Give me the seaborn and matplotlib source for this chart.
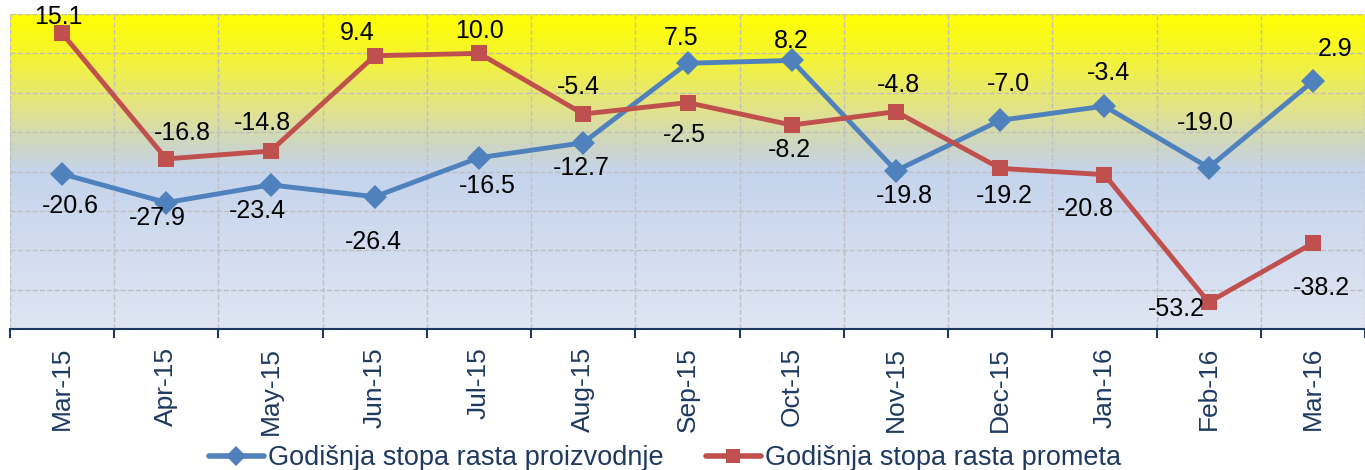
import numpy as np
import pandas as pd
import matplotlib
matplotlib.use('Agg')
import matplotlib.pyplot as plt
from matplotlib.colors import LinearSegmentedColormap
from matplotlib.lines import Line2D
import seaborn as sns

# Data
months = ['Mar-15', 'Apr-15', 'May-15', 'Jun-15', 'Jul-15', 'Aug-15', 'Sep-15',
          'Oct-15', 'Nov-15', 'Dec-15', 'Jan-16', 'Feb-16', 'Mar-16']
proizvodnja = [-20.6, -27.9, -23.4, -26.4, -16.5, -12.7, 7.5, 8.2, -19.8, -7.0, -3.4, -19.0, 2.9]
promet = [15.1, -16.8, -14.8, 9.4, 10.0, -5.4, -2.5, -8.2, -4.8, -19.2, -20.8, -53.2, -38.2]
series_names = ['Godišnja stopa rasta proizvodnje', 'Godišnja stopa rasta prometa']

# label offsets in pixels (dx, dy), dy positive = up
off_proizvodnja = [(8, -32), (-9, -15), (-13, -26), (-1, -45), (8, -28), (-2, -25), (-6, 25),
                   (0, 19), (8, -25), (8, 36), (4, 33), (-3, 45), (22, 32)]
off_promet = [(-4, 16), (16, 26), (-8, 28), (-18, 23), (0, 22), (-5, 27), (-3, -32),
              (-2, -25), (3, 27), (4, -28), (-19, -34), (-32, -7), (9, -45)]

blue = '#4F81BD'
red = '#C0504D'
navy = '#1F3A60'

sns.set_theme(style='white')
plt.rcParams['font.family'] = ['Liberation Sans', 'DejaVu Sans']

df = pd.DataFrame({'pos': np.arange(len(months)), 'proizvodnja': proizvodnja, 'promet': promet})

fig, ax = plt.subplots(figsize=(13.65, 4.70), dpi=100)
fig.subplots_adjust(left=10 / 1365, right=1.0, bottom=1 - 329 / 470, top=1 - 14 / 470)

# gradient background
cmap = LinearSegmentedColormap.from_list('bg', [
    (0.0, '#FFFF00'), (0.12, '#F6F52C'), (0.30, '#E2E38A'), (0.42, '#CDD6C6'),
    (0.50, '#C5D4EC'), (1.0, '#DFE5F3')])
grad = np.linspace(0, 1, 256).reshape(-1, 1)
ax.imshow(grad, cmap=cmap, aspect='auto', extent=[-0.5, 12.5, -60, 20],
          origin='upper', zorder=0)

sns.lineplot(data=df, x='pos', y='proizvodnja', ax=ax, color=blue, linewidth=3.5,
             marker='D', markersize=12, markeredgewidth=0, zorder=3)
sns.lineplot(data=df, x='pos', y='promet', ax=ax, color=red, linewidth=3.5,
             marker='s', markersize=11, markeredgewidth=0, zorder=3)

for i in range(len(months)):
    ax.annotate(f'{proizvodnja[i]:.1f}', xy=(i, proizvodnja[i]), xytext=off_proizvodnja[i],
                textcoords='offset pixels', ha='center', va='center', fontsize=18,
                color='black', zorder=5)
    ax.annotate(f'{promet[i]:.1f}', xy=(i, promet[i]), xytext=off_promet[i],
                textcoords='offset pixels', ha='center', va='center', fontsize=18,
                color='black', zorder=5)

ax.set_xlim(-0.5, 12.5)
ax.set_ylim(-60, 20)
ax.set_xlabel('')
ax.set_ylabel('')

ax.set_xticks(range(len(months)))
ax.set_xticklabels(months, rotation=90, fontsize=19, color=navy)
ax.set_xticks(np.arange(-0.5, len(months)), minor=True)
ax.tick_params(axis='x', which='major', length=0, pad=13)
ax.tick_params(axis='x', which='minor', length=6.5, width=1.5, color=navy, direction='out', bottom=True)
ax.set_yticks(range(-60, 21, 10))
ax.set_yticklabels([])
ax.tick_params(axis='y', length=0)

ax.set_axisbelow(True)
ax.grid(which='minor', axis='x', linestyle='--', color='#BFBFBF', linewidth=1)
ax.grid(which='major', axis='y', linestyle='--', color='#BFBFBF', linewidth=1)
ax.grid(which='major', axis='x', visible=False)

for side in ['top', 'right', 'left']:
    ax.spines[side].set_visible(False)
ax.spines['bottom'].set_color(navy)
ax.spines['bottom'].set_linewidth(1.5)

handles = [Line2D([], [], color=blue, linewidth=4, marker='D', markersize=10, markeredgewidth=0),
           Line2D([], [], color=red, linewidth=4, marker='s', markersize=10, markeredgewidth=0)]
fig.legend(handles, series_names, loc='center', bbox_to_anchor=(665 / 1365, 1 - 458 / 470),
           ncol=2, frameon=False, fontsize=19.5, labelcolor=navy, handlelength=2.05,
           handletextpad=0.15, columnspacing=1.55, borderpad=0)

fig.savefig('out.png', dpi=100)
